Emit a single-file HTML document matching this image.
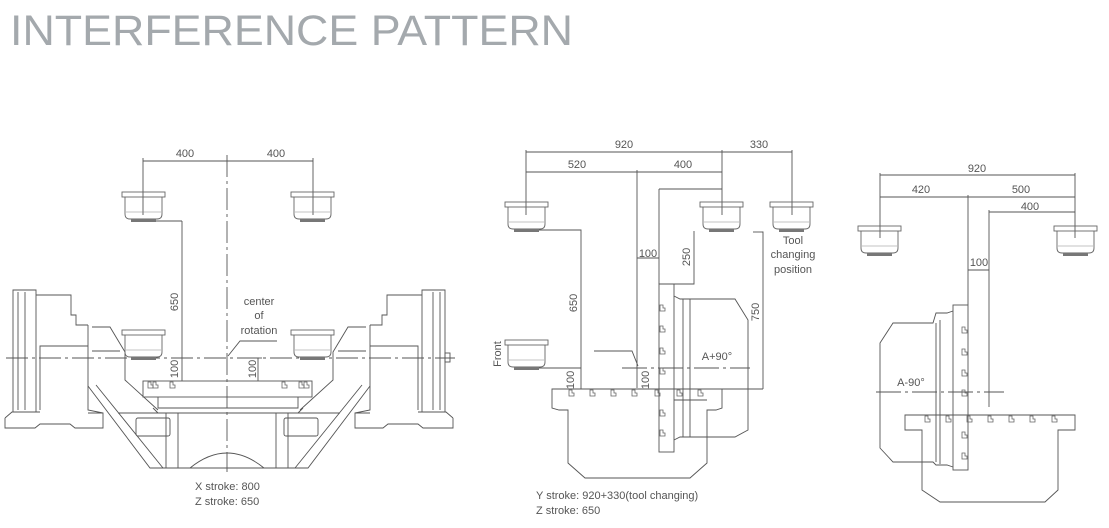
<!DOCTYPE html>
<html><head><meta charset="utf-8"><style>
html,body{margin:0;padding:0;background:#fff;}
svg{display:block;}
text{font-family:"Liberation Sans",sans-serif;fill:#555;}
</style></head><body>
<svg width="1109" height="528" viewBox="0 0 1109 528" xmlns="http://www.w3.org/2000/svg">
<defs>
<g id="sp">
  <rect x="0" y="0" width="43" height="5" fill="none" stroke="#666" stroke-width="0.9"/>
  <path d="M3 5 V22 Q3 27 8 27 H35 Q40 27 40 22 V5" fill="none" stroke="#666" stroke-width="0.9"/>
  <line x1="4" y1="20" x2="39" y2="20" stroke="#888" stroke-width="0.6"/>
  <rect x="9" y="27" width="25" height="3" fill="#777"/>
</g>
<g id="slot"><path d="M0 0 h3 v3 h2 v3 h-5 z" fill="none" stroke="#666" stroke-width="0.8"/></g>
</defs>

<text x="10" y="45" font-size="43" textLength="563" lengthAdjust="spacingAndGlyphs" style="fill:#a4a9ad">INTERFERENCE PATTERN</text>

<g fill="none" stroke="#555" stroke-width="0.9">
<line x1="143" y1="161" x2="313" y2="161"/>
<line x1="143" y1="158" x2="143" y2="215"/>
<line x1="313" y1="158" x2="313" y2="215"/>
<line x1="227" y1="155" x2="227" y2="472" stroke-dasharray="22 4 3 4"/>
<line x1="6" y1="358" x2="455" y2="358" stroke-dasharray="22 4 3 4"/>
<line x1="155" y1="221" x2="182" y2="221"/>
<line x1="182" y1="221" x2="182" y2="381"/>
<line x1="258" y1="358" x2="258" y2="381"/>
<line x1="250" y1="358" x2="262" y2="358"/>
<path d="M277 341 H240 L228 356"/>
<rect x="143" y="381" width="169" height="16"/>
<path d="M158 397 V408 H298 V397"/>
<path d="M153 408 L158 413 H298 L303 408"/>
<path d="M13 290 H36 V412 H13 Z"/>
<line x1="18" y1="292" x2="18" y2="410"/>
<line x1="25" y1="292" x2="25" y2="410"/>
<path d="M36 295 H71 V315 H76 V325 H88"/>
<path d="M40 410 V346 H88"/>
<path d="M5 418 L12 412 H40 M5 418 V428 H35 L40 424 H70 L75 428 H103 V413 H88"/>
<path d="M88 325 V410 L103 413"/>
<path d="M92 327 H110 L125 352 V380 L158 410"/>
<path d="M92 351 H120"/>
<path d="M88 386 L150 468 H163 L96 385"/>
<g transform="translate(458,0) scale(-1,1)">
<path d="M13 290 H36 V412 H13 Z"/>
<line x1="18" y1="292" x2="18" y2="410"/>
<line x1="25" y1="292" x2="25" y2="410"/>
<path d="M36 295 H71 V315 H76 V325 H88"/>
<path d="M40 410 V346 H88"/>
<path d="M5 418 L12 412 H40 M5 418 V428 H35 L40 424 H70 L75 428 H103 V413 H88"/>
<path d="M88 325 V410 L103 413"/>
<path d="M92 327 H110 L125 352 V380 L158 410"/>
<path d="M92 351 H120"/>
<path d="M88 386 L150 468 H163 L96 385"/>
</g>
<rect x="445" y="353" width="5" height="9"/>
<path d="M118 413 H340"/>
<rect x="136" y="418" width="34" height="18" rx="2"/>
<rect x="284" y="418" width="34" height="18" rx="2"/>
<path d="M166 413 V468 M288 413 V468 M178 413 V468 M276 413 V468"/>
<path d="M190 468 Q227 438 264 468"/>
<path d="M155 468 H300"/>

<line x1="526" y1="152" x2="792" y2="152"/>
<line x1="526" y1="172" x2="722" y2="172"/>
<line x1="659" y1="189" x2="722" y2="189"/>
<line x1="526" y1="150" x2="526" y2="215"/>
<line x1="722" y1="150" x2="722" y2="215"/>
<line x1="792" y1="150" x2="792" y2="215"/>
<line x1="637" y1="170" x2="637" y2="388"/>
<line x1="659" y1="189" x2="659" y2="284"/>
<line x1="637" y1="258" x2="659" y2="258"/>
<path d="M538 230 H581 V389"/>
<path d="M694 231 V284 H659"/>
<path d="M762 232 H763 V389"/>
<line x1="753" y1="232" x2="763" y2="232"/>
<line x1="523" y1="368" x2="581" y2="368"/>
<line x1="622" y1="368" x2="750" y2="368" stroke-dasharray="25 4 3 4"/>
<path d="M594 351 H632 L638 366"/>
<line x1="659" y1="389" x2="763" y2="389"/>
<rect x="659" y="284" width="15" height="168"/>
<path d="M674 296 L680 299 H735 L748 320 V430 L735 437 H680 L674 440"/>
<line x1="683" y1="299" x2="683" y2="437"/>
<line x1="690" y1="299" x2="690" y2="437"/>
<path d="M552 389 H722 V408 L716 410 H707 V463 L690 478 H585 L568 463 V410 H559 L552 408 Z"/>
<line x1="674" y1="400" x2="707" y2="400"/>

<line x1="880" y1="175" x2="1075" y2="175"/>
<line x1="880" y1="197" x2="1075" y2="197"/>
<line x1="989" y1="212" x2="1075" y2="212"/>
<line x1="880" y1="173" x2="880" y2="238"/>
<line x1="1075" y1="173" x2="1075" y2="238"/>
<line x1="968" y1="195" x2="968" y2="305"/>
<line x1="989" y1="210" x2="989" y2="407"/>
<line x1="968" y1="270" x2="989" y2="270"/>
<line x1="876" y1="392" x2="1004" y2="392" stroke-dasharray="25 4 3 4"/>
<rect x="953" y="305" width="15" height="165"/>
<path d="M953 311 L947 313 H936 L933 323 H893 L880 343 V448 L893 462 H933 L936 465 H947 L953 467"/>
<line x1="936" y1="323" x2="936" y2="462"/>
<line x1="940" y1="320" x2="940" y2="464"/>
<path d="M905 415 H1075 V430 H1058 V490 L1045 502 H940 L922 490 V430 H905 Z"/>
</g>

<use href="#sp" x="122" y="192"/><use href="#sp" x="291" y="192"/>
<use href="#sp" x="122" y="330"/><use href="#sp" x="291" y="330"/>
<use href="#sp" x="505" y="202"/><use href="#sp" x="700" y="202"/><use href="#sp" x="770" y="202"/>
<use href="#sp" x="505" y="340"/>
<use href="#sp" x="858" y="226"/><use href="#sp" x="1054" y="226"/>

<use href="#slot" x="148" y="382"/><use href="#slot" x="153" y="382"/><use href="#slot" x="170" y="382"/>
<use href="#slot" x="282" y="382"/><use href="#slot" x="299" y="382"/><use href="#slot" x="304" y="382"/>
<use href="#slot" x="569" y="390"/><use href="#slot" x="590" y="390"/><use href="#slot" x="611" y="390"/><use href="#slot" x="632" y="390"/><use href="#slot" x="655" y="390"/><use href="#slot" x="677" y="390"/><use href="#slot" x="698" y="390"/>
<use href="#slot" x="660" y="305"/><use href="#slot" x="660" y="326"/><use href="#slot" x="660" y="348"/><use href="#slot" x="660" y="368"/><use href="#slot" x="660" y="410"/><use href="#slot" x="660" y="430"/>
<use href="#slot" x="925" y="416"/><use href="#slot" x="946" y="416"/><use href="#slot" x="967" y="416"/><use href="#slot" x="988" y="416"/><use href="#slot" x="1009" y="416"/><use href="#slot" x="1030" y="416"/><use href="#slot" x="1052" y="416"/>
<use href="#slot" x="962" y="327"/><use href="#slot" x="962" y="349"/><use href="#slot" x="962" y="370"/><use href="#slot" x="962" y="390"/><use href="#slot" x="962" y="432"/><use href="#slot" x="962" y="453"/>

<g font-size="11">
<text x="185" y="157" text-anchor="middle">400</text>
<text x="276" y="157" text-anchor="middle">400</text>
<text transform="translate(178,302) rotate(-90)" text-anchor="middle">650</text>
<text transform="translate(178,369) rotate(-90)" text-anchor="middle">100</text>
<text transform="translate(256,369) rotate(-90)" text-anchor="middle">100</text>
<text x="259" y="305" text-anchor="middle">center</text>
<text x="259" y="319" text-anchor="middle">of</text>
<text x="259" y="334" text-anchor="middle">rotation</text>
<text x="195" y="490">X stroke: 800</text>
<text x="195" y="505">Z stroke: 650</text>
<text x="624" y="148" text-anchor="middle">920</text>
<text x="759" y="148" text-anchor="middle">330</text>
<text x="577" y="168" text-anchor="middle">520</text>
<text x="683" y="168" text-anchor="middle">400</text>
<text x="648" y="257" text-anchor="middle">100</text>
<text transform="translate(690,257) rotate(-90)" text-anchor="middle">250</text>
<text transform="translate(577,303) rotate(-90)" text-anchor="middle">650</text>
<text transform="translate(759,312) rotate(-90)" text-anchor="middle">750</text>
<text transform="translate(574,380) rotate(-90)" text-anchor="middle">100</text>
<text transform="translate(649,380) rotate(-90)" text-anchor="middle">100</text>
<text transform="translate(501,354) rotate(-90)" text-anchor="middle">Front</text>
<text x="793" y="244" text-anchor="middle">Tool</text>
<text x="793" y="258" text-anchor="middle">changing</text>
<text x="793" y="273" text-anchor="middle">position</text>
<text x="717" y="360" text-anchor="middle">A+90°</text>
<text x="536" y="499">Y stroke: 920+330(tool changing)</text>
<text x="536" y="514">Z stroke: 650</text>
<text x="977" y="172" text-anchor="middle">920</text>
<text x="921" y="193" text-anchor="middle">420</text>
<text x="1021" y="193" text-anchor="middle">500</text>
<text x="1030" y="210" text-anchor="middle">400</text>
<text x="979" y="266" text-anchor="middle">100</text>
<text x="911" y="386" text-anchor="middle">A-90°</text>
</g>
</svg>
</body></html>
